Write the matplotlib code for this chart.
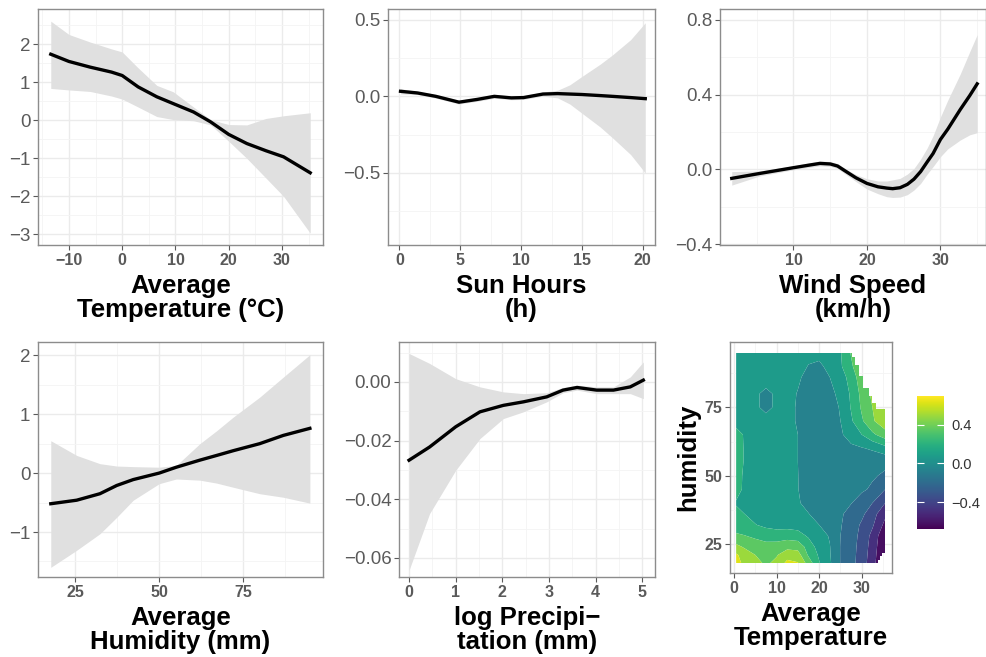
import numpy as np
import matplotlib
matplotlib.use("Agg")
import matplotlib.pyplot as plt
from matplotlib.colors import Normalize
from matplotlib.cm import ScalarMappable
from matplotlib.patches import Polygon

# smooth fits (x, fitted value, lower / upper band)
temp_x = [-13.4, -10, -6, -2, 0, 3, 6.5, 9.6, 13.4, 16.6, 20, 23.4, 27, 30.3, 35.3]
temp_fit = [1.74, 1.55, 1.40, 1.27, 1.18, 0.88, 0.62, 0.44, 0.22, -0.04, -0.37, -0.61, -0.80, -0.96, -1.38]
temp_lo = [0.84, 0.80, 0.76, 0.64, 0.56, 0.35, 0.10, 0.02, -0.01, -0.12, -0.55, -1.00, -1.52, -2.00, -2.97]
temp_hi = [2.61, 2.26, 2.06, 1.88, 1.80, 1.38, 0.92, 0.75, 0.35, 0.02, -0.11, -0.12, 0.05, 0.12, 0.20]

sun_x = [0.1, 1.5, 3, 4.9, 6.4, 7.8, 9.2, 10.2, 11.8, 13, 14, 15, 16.5, 17.5, 19, 20.2]
sun_fit = [0.033, 0.022, 0.0, -0.038, -0.02, 0.0, -0.01, -0.008, 0.015, 0.018, 0.015, 0.012, 0.005, 0.0, -0.008, -0.015]
sun_lo = [0.016, 0.012, -0.012, -0.05, -0.032, -0.012, -0.022, -0.02, 0.002, -0.01, -0.05, -0.11, -0.2, -0.27, -0.38, -0.50]
sun_hi = [0.05, 0.032, 0.012, -0.026, -0.008, 0.012, 0.002, 0.004, 0.028, 0.04, 0.075, 0.13, 0.21, 0.27, 0.37, 0.48]

wind_x = [1.6, 5.5, 10, 12, 13.6, 15, 16, 17.3, 18.5, 20, 21.5, 22.7, 23.5, 24.5,
          25.5, 26.4, 27.3, 28.2, 29, 30, 31, 32.7, 34, 35]
wind_fit = [-0.048, -0.021, 0.009, 0.022, 0.032, 0.029, 0.018, -0.015, -0.045, -0.075, -0.093, -0.10,
            -0.103, -0.098, -0.08, -0.052, -0.012, 0.04, 0.085, 0.16, 0.215, 0.32, 0.395, 0.457]
wind_lo = [-0.084, -0.034, -0.002, 0.010, 0.019, 0.016, 0.005, -0.032, -0.065, -0.105, -0.13, -0.146,
           -0.15, -0.148, -0.135, -0.11, -0.075, -0.025, 0.015, 0.068, 0.11, 0.157, 0.185, 0.196]
wind_hi = [-0.012, -0.008, 0.02, 0.034, 0.045, 0.042, 0.031, -0.002, -0.028, -0.05, -0.062, -0.062,
           -0.056, -0.048, -0.025, 0.005, 0.055, 0.115, 0.18, 0.28, 0.37, 0.51, 0.63, 0.72]

hum_x = [17.8, 25.5, 32.4, 37.4, 42.3, 50, 55.1, 62.1, 67.1, 72, 79.9, 86.9, 94.8]
hum_fit = [-0.52, -0.46, -0.35, -0.21, -0.11, 0.0, 0.10, 0.22, 0.30, 0.38, 0.50, 0.64, 0.76]
hum_lo = [-1.60, -1.31, -1.03, -0.75, -0.46, -0.18, -0.10, -0.12, -0.17, -0.24, -0.35, -0.41, -0.51]
hum_hi = [0.55, 0.30, 0.16, 0.12, 0.11, 0.10, 0.13, 0.50, 0.72, 0.95, 1.29, 1.63, 2.01]

prec_x = [0.0, 0.44, 1.0, 1.52, 2.02, 2.45, 2.95, 3.3, 3.6, 4.02, 4.38, 4.74, 5.02]
prec_fit = [-0.0267, -0.0222, -0.0153, -0.0102, -0.0080, -0.0068, -0.0051, -0.0028, -0.0019, -0.0028, -0.0028, -0.0017, 0.0006]
prec_lo = [-0.0642, -0.0449, -0.0301, -0.0193, -0.0125, -0.0102, -0.0068, -0.0037, -0.0028, -0.0040, -0.0040, -0.0040, -0.0057]
prec_hi = [0.0097, 0.0063, 0.0011, -0.0017, -0.0034, -0.0040, -0.0037, -0.0019, -0.0011, -0.0017, -0.0017, 0.0017, 0.0068]

# temperature x humidity surface
heat_temp = [0.5, 2.5, 5, 7.5, 10, 12.5, 15, 17.5, 20, 22.5, 25, 27.5, 30, 32.5, 35.5]
heat_hum = [18, 21, 24, 28, 32, 36, 40, 45, 50, 55, 60, 65, 70, 75, 80, 86, 90, 95]
heat_z = [
    [0.62, 0.52, 0.46, 0.40, 0.45, 0.60, 0.57, 0.36, 0.15, 0.02, -0.145, -0.23, -0.35, -0.50, -0.74],
    [0.58, 0.50, 0.42, 0.38, 0.41, 0.50, 0.48, 0.26, 0.12, 0.01, -0.145, -0.23, -0.34, -0.49, -0.72],
    [0.46, 0.40, 0.36, 0.33, 0.34, 0.38, 0.37, 0.22, 0.08, 0.005, -0.145, -0.23, -0.33, -0.48, -0.70],
    [0.30, 0.285, 0.25, 0.22, 0.21, 0.22, 0.20, 0.12, 0.05, -0.01, -0.14, -0.22, -0.32, -0.46, -0.68],
    [0.22, 0.19, 0.145, 0.11, 0.09, 0.09, 0.08, 0.05, 0.0, -0.06, -0.13, -0.21, -0.30, -0.40, -0.60],
    [0.17, 0.14, 0.10, 0.07, 0.06, 0.05, 0.03, 0.003, -0.04, -0.08, -0.12, -0.19, -0.25, -0.36, -0.53],
    [0.13, 0.10, 0.08, 0.06, 0.05, 0.03, 0.01, -0.03, -0.06, -0.08, -0.10, -0.135, -0.20, -0.28, -0.42],
    [0.18, 0.12, 0.08, 0.06, 0.05, 0.03, 0.003, -0.05, -0.07, -0.08, -0.09, -0.10, -0.12, -0.16, -0.28],
    [0.19, 0.12, 0.08, 0.06, 0.05, 0.03, 0.002, -0.05, -0.07, -0.08, -0.09, -0.10, -0.11, -0.125, -0.16],
    [0.20, 0.13, 0.08, 0.06, 0.05, 0.03, 0.0, -0.05, -0.07, -0.08, -0.08, -0.08, -0.09, -0.10, -0.11],
    [0.20, 0.13, 0.08, 0.06, 0.05, 0.03, 0.0, -0.05, -0.07, -0.07, -0.05, -0.03, -0.01, 0.02, 0.09],
    [0.18, 0.13, 0.08, 0.06, 0.05, 0.03, 0.0, -0.05, -0.07, -0.06, -0.02, 0.06, 0.14, 0.25, 0.36],
    [0.10, 0.08, 0.06, 0.04, 0.04, 0.03, -0.01, -0.06, -0.07, -0.05, 0.0, 0.12, 0.26, 0.40, 0.52],
    [0.07, 0.06, 0.02, -0.03, 0.02, 0.03, -0.01, -0.06, -0.07, -0.05, 0.01, 0.15, 0.30, 0.42, 0.52],
    [0.07, 0.06, 0.02, -0.03, 0.02, 0.03, -0.005, -0.05, -0.06, -0.04, 0.04, 0.16, 0.32, 0.45, 0.55],
    [0.07, 0.07, 0.07, 0.06, 0.06, 0.04, 0.015, -0.03, -0.04, 0.0, 0.07, 0.20, 0.36, 0.48, 0.55],
    [0.07, 0.07, 0.07, 0.07, 0.07, 0.06, 0.04, -0.005, -0.02, 0.03, 0.12, 0.26, 0.38, 0.49, 0.55],
    [0.07, 0.07, 0.07, 0.07, 0.07, 0.07, 0.06, 0.03, 0.03, 0.05, 0.13, 0.29, 0.40, 0.50, 0.55],
]
heat_levels = [-0.80, -0.56, -0.42, -0.28, -0.14, 0.0, 0.14, 0.28, 0.42, 0.56, 0.80]
# where observations exist (max / min humidity by temperature)
cover_top_temp = [0.5, 27.7, 28.5, 29.3, 30.4, 31.6, 32.3, 33.4, 35.5]
cover_top_hum = [95, 93.5, 90.5, 86.5, 82, 79, 76.5, 74.5]
cover_bot_temp = [0.5, 33.8, 34.3, 34.8, 35.5]
cover_bot_hum = [18, 19.3, 20.5, 21.7]

FIG_W, FIG_H = 987, 657
RIBBON = "#E0E0E0"
TICK_GREY = "#5A5A5A"

plt.rcParams["font.family"] = ["Liberation Sans", "DejaVu Sans"]


def box(left, top, right, bottom):
    return [left / FIG_W, 1 - bottom / FIG_H, (right - left) / FIG_W, (bottom - top) / FIG_H]


def fmt(v, digits):
    return f"{v:.{digits}f}".replace("-", "\u2212")


def style_axes(ax, xlim, ylim, xticks, yticks, ydigits, xlabel, ybold=False, ysize=13.5):
    ax.set_xticks(xticks)
    ax.set_xticklabels([fmt(v, 0) for v in xticks], fontweight="bold",
                       fontsize=11.5, color=TICK_GREY)
    ax.set_yticks(yticks)
    ax.set_yticklabels([fmt(v, ydigits) for v in yticks],
                       fontweight="bold" if ybold else "normal",
                       fontsize=ysize, color=TICK_GREY)
    xs = xticks[1] - xticks[0]
    ys = yticks[1] - yticks[0]
    ax.set_xticks(np.arange(xticks[0] - 1.5 * xs, xlim[1], xs), minor=True)
    ax.set_yticks(np.arange(yticks[0] - 1.5 * ys, ylim[1], ys), minor=True)
    ax.set_xlim(xlim)
    ax.set_ylim(ylim)
    ax.grid(True, which="major", color="#EBEBEB", lw=1.0)
    ax.grid(True, which="minor", color="#F4F4F4", lw=0.6)
    ax.set_axisbelow(True)
    ax.tick_params(which="minor", length=0)
    ax.tick_params(which="major", length=3.5, width=0.8, color=TICK_GREY, pad=2)
    for s in ax.spines.values():
        s.set_color("#8C8C8C")
        s.set_linewidth(1.0)
    ax.set_xlabel(xlabel, fontsize=18.5, fontweight="bold", linespacing=1.0, labelpad=4.5)


def smooth_panel(ax, x, fit, lo, hi):
    ax.fill_between(x, lo, hi, color=RIBBON, lw=0, zorder=2)
    ax.plot(x, fit, color="black", lw=2.4, zorder=3, solid_joinstyle="round")


fig = plt.figure(figsize=(FIG_W / 100, FIG_H / 100), dpi=100)

ax1 = fig.add_axes(box(38, 9, 323, 245))
smooth_panel(ax1, temp_x, temp_fit, temp_lo, temp_hi)
style_axes(ax1, (-15.8, 37.7), (-3.28, 2.93), [-10, 0, 10, 20, 30], [-3, -2, -1, 0, 1, 2], 0,
           "Average\nTemperature (°C)")

ax2 = fig.add_axes(box(388, 9, 655, 245))
smooth_panel(ax2, sun_x, sun_fit, sun_lo, sun_hi)
style_axes(ax2, (-0.93, 21.0), (-0.97, 0.57), [0, 5, 10, 15, 20], [-0.5, 0.0, 0.5], 1,
           "Sun Hours\n(h)")

ax3 = fig.add_axes(box(720, 9, 986, 245))
smooth_panel(ax3, wind_x, wind_fit, wind_lo, wind_hi)
style_axes(ax3, (0.0, 36.2), (-0.404, 0.857), [10, 20, 30], [-0.4, 0.0, 0.4, 0.8], 1,
           "Wind Speed\n(km/h)")

ax4 = fig.add_axes(box(38, 342, 323, 577))
smooth_panel(ax4, hum_x, hum_fit, hum_lo, hum_hi)
style_axes(ax4, (14.0, 98.7), (-1.764, 2.226), [25, 50, 75], [-1, 0, 1, 2], 0,
           "Average\nHumidity (mm)")

ax5 = fig.add_axes(box(399, 342, 655, 577))
smooth_panel(ax5, prec_x, prec_fit, prec_lo, prec_hi)
style_axes(ax5, (-0.215, 5.27), (-0.0665, 0.0136), [0, 1, 2, 3, 4, 5],
           [-0.06, -0.04, -0.02, 0.0], 2, "log Precipi\u2212\ntation (mm)")

# contour panel
ax6 = fig.add_axes(box(730, 342, 892, 573))
norm = Normalize(-0.68, 0.70)
band_mid = [max(-0.63, min(0.63, (a + b) / 2)) for a, b in zip(heat_levels[:-1], heat_levels[1:])]
band_colors = [plt.cm.viridis(norm(m)) for m in band_mid]
X, Y = np.meshgrid(heat_temp, heat_hum)
cs = ax6.contourf(X, Y, np.array(heat_z), levels=heat_levels, colors=band_colors,
                  antialiased=True, zorder=2)

verts = []
for i in range(len(cover_top_hum)):
    verts.append((cover_top_temp[i], cover_top_hum[i]))
    verts.append((cover_top_temp[i + 1], cover_top_hum[i]))
bot = []
for i in range(len(cover_bot_hum)):
    bot.append((cover_bot_temp[i], cover_bot_hum[i]))
    bot.append((cover_bot_temp[i + 1], cover_bot_hum[i]))
verts = verts + bot[::-1]
clip = Polygon(verts, closed=True, transform=ax6.transData)
cs.set_clip_path(clip)

style_axes(ax6, (-0.94, 37.1), (14.4, 98.9), [0, 10, 20, 30], [25, 50, 75], 0,
           "Average\nTemperature", ybold=True, ysize=11.5)
ax6.set_ylabel("humidity", fontsize=18.5, fontweight="bold", labelpad=3)

cax = fig.add_axes(box(917, 396, 944, 529))
sm = ScalarMappable(norm=norm, cmap="viridis")
cb = fig.colorbar(sm, cax=cax)
cb.outline.set_visible(False)
cb.set_ticks([-0.4, 0.0, 0.4])
cb.set_ticklabels([fmt(v, 1) for v in [-0.4, 0.0, 0.4]])
cax.tick_params(direction="in", color="white", length=5, width=0.8,
                left=True, right=True, labelsize=10.5, labelcolor="#333333", pad=5)

fig.savefig("out.png", dpi=100)
